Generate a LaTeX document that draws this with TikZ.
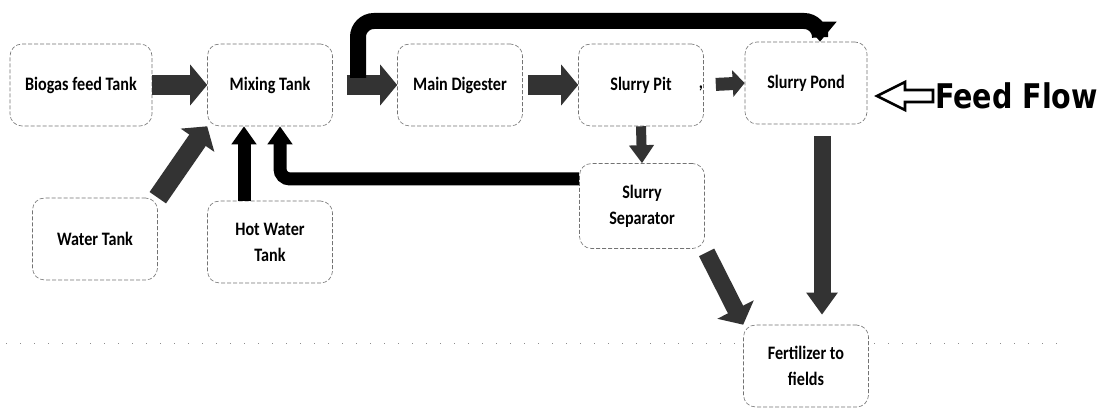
\documentclass[tikz,border=0pt]{standalone}
\usepackage{fontspec}
\usepackage{tikz}
\usetikzlibrary{positioning,arrows.meta}
\newfontfamily\boxfont{Carlito}[FakeStretch=0.85]
\newfontfamily\flowfont{DejaVu Sans}[FakeStretch=0.84]

\begin{document}
\begin{tikzpicture}[x=1pt, y=-1pt]
\tikzset{
  tank/.style={rectangle, rounded corners=12pt, draw=black!55, line width=0.6pt, dash pattern=on 4pt off 2pt,
    fill=white, minimum width=125pt, minimum height=82pt, align=center,
    font=\boxfont\bfseries\fontsize{19}{26}\selectfont},
  blk/.style={line width=20pt, color=black!80, -{Triangle[length=17pt, width=40pt]}},
  pipe/.style={line width=13pt, color=black, -{Triangle[length=18pt, width=24pt]}},
  flowlbl/.style={font=\flowfont\bfseries\fontsize{34}{36}\selectfont, inner sep=0pt, anchor=west}
}
\useasboundingbox (0,0) rectangle (1103,411);
\draw[black!45, line width=1pt, dash pattern=on 1pt off 13pt] (6,344) -- (1062,344);
\node[tank, minimum width=142pt] (feed) at (81,85) {Biogas feed Tank};
\node[tank] (mix)   at (270,85)  {Mixing Tank};
\node[tank] (dig)   at (460,85)  {Main Digester};
\node[tank] (pit)   at (641,85)  {Slurry Pit};
\node[tank, minimum width=122pt] (pond) at (806,83) {Slurry Pond};
\node[tank, minimum height=85pt] (sep) at (642,206) {Slurry\\Separator};
\node[tank] (water) at (95,239)  {Water Tank};
\node[tank] (hot)   at (270,242) {Hot Water\\Tank};
\node[tank] (fert)  at (806,366) {Fertilizer to\\fields};
\node[font=\boxfont\bfseries\fontsize{19}{21}\selectfont, inner sep=0pt] (comma) at (701,88) {,};
\node[flowlbl] (flow) at (935,96) {Feed Flow};
\draw[line width=2.6pt, line join=miter, fill=white] ([xshift=-2pt, yshift=6pt]flow.west) -- ++(-28,0) -- ++(0,-8)
  -- ++(-28,14) -- ++(28,14) -- ++(0,-8) -- ++(28,0) -- cycle;
\coordinate (riser) at (358,78);
\draw[blk] (feed.east) -- (mix.west);
\draw[blk, shorten <=14pt] (mix.east) -- (dig.west);
\draw[blk, shorten <=5pt] (dig.east) -- (pit.west);
\draw[blk, line width=13pt, -{Triangle[length=12pt, width=26pt]}, shorten <=12pt] (pit.east) -- (pond.west);
\draw[blk] (water.north east) -- (mix.south west);
\draw[pipe] ([xshift=-26pt]hot.north) -- ([xshift=-26pt]mix.south);
\draw[pipe, rounded corners=10pt] ([yshift=27pt]sep.west) -| ([xshift=10pt]mix.south);
\draw[blk, line width=10pt, -{Triangle[length=18pt, width=24pt]}] (pit.south) -- (sep.north);
\draw[blk, line width=17pt, shorten <=4pt] (sep.south east) -- (fert.north west);
\draw[blk, line width=17pt, -{Triangle[length=22pt, width=30pt]}, shorten <=12pt, shorten >=10pt] ([xshift=16pt]pond.south) -- ([xshift=16pt]fert.north);
\draw[pipe, line width=16pt, rounded corners=16pt, -{Triangle[length=20pt, width=32pt]}] (riser) -- ++(0,-57) -| ([xshift=14pt]pond.north);
\end{tikzpicture}
\end{document}
